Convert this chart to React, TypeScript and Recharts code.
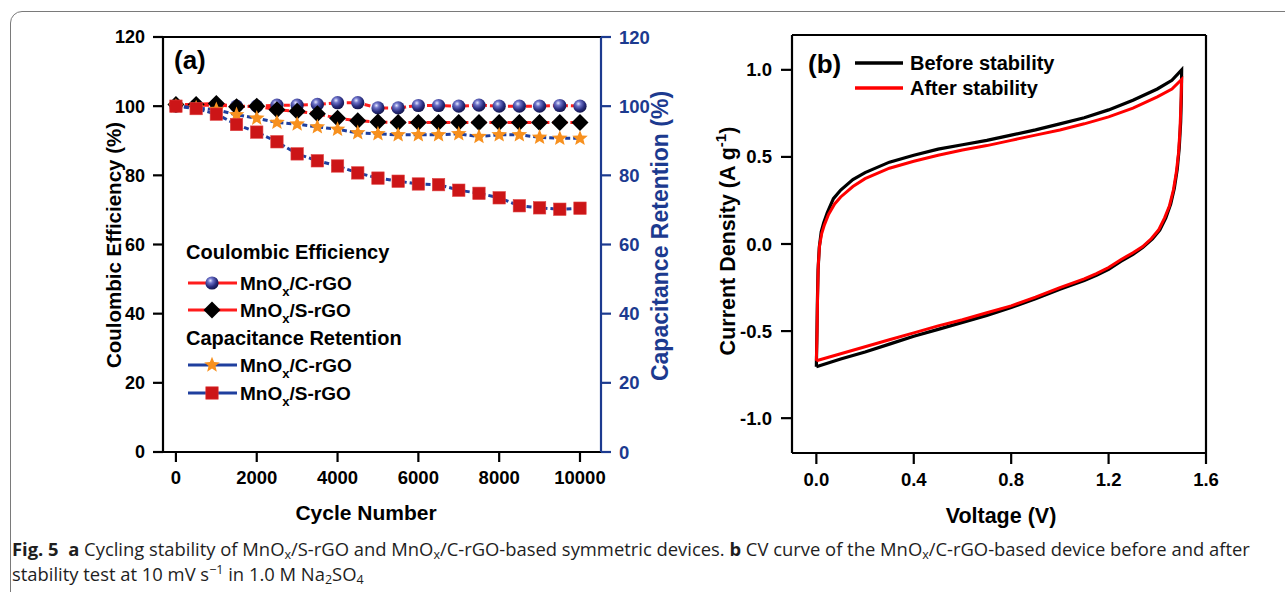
import React from 'react';
import {
  ComposedChart,
  Line,
  XAxis,
  YAxis,
  ReferenceLine,
  Legend,
} from 'recharts';

// (a) cycling stability, one reading every 500 cycles
const cycles = [
  0, 500, 1000, 1500, 2000, 2500, 3000, 3500, 4000, 4500, 5000, 5500, 6000,
  6500, 7000, 7500, 8000, 8500, 9000, 9500, 10000,
];
const ceCrgo = [
  100, 100.2, 100.3, 100, 100, 100.3, 100.3, 100.5, 101, 101, 99.5, 99.5,
  100.2, 100.2, 100, 100.3, 100, 100, 100, 100.2, 100,
];
const ceSrgo = [
  100.5, 100.5, 100.8, 99.8, 100, 99, 98.5, 97.8, 96.5, 95.8, 95.4, 95.3,
  95.3, 95.3, 95.3, 95.3, 95.3, 95.3, 95.3, 95.3, 95.3,
];
const crCrgo = [
  100, 99.5, 99, 97.5, 96.5, 95.3, 94.8, 94, 93.3, 92.3, 92, 91.7, 91.7, 91.7,
  92, 91.2, 91.7, 91.7, 91, 90.7, 90.7,
];
const crSrgo = [
  100, 99.3, 97.7, 94.7, 92.5, 89.7, 86.2, 84.2, 82.7, 80.7, 79.2, 78.3, 77.5,
  77.3, 75.7, 74.8, 73.5, 71.2, 70.6, 70.2, 70.5,
];
const cycleTicks = [0, 2000, 4000, 6000, 8000, 10000];
const percentTicks = [0, 20, 40, 60, 80, 100, 120];

// (b) CV loops, [voltage, current density]
const beforeCurve = [
  [0, -0.705], [0.002, -0.55], [0.004, -0.35], [0.007, -0.15], [0.012, -0.02],
  [0.02, 0.07], [0.03, 0.12], [0.045, 0.18], [0.07, 0.26], [0.1, 0.31],
  [0.15, 0.37], [0.2, 0.41], [0.3, 0.47], [0.4, 0.51], [0.5, 0.545],
  [0.6, 0.57], [0.7, 0.595], [0.8, 0.625], [0.9, 0.655], [1.0, 0.69],
  [1.1, 0.725], [1.2, 0.77], [1.3, 0.825], [1.4, 0.89], [1.46, 0.94],
  [1.5, 1.0], [1.499, 0.85], [1.496, 0.7], [1.49, 0.55], [1.482, 0.43],
  [1.47, 0.32], [1.455, 0.23], [1.435, 0.15], [1.41, 0.08], [1.38, 0.03],
  [1.34, -0.02], [1.3, -0.06], [1.25, -0.1], [1.2, -0.145], [1.15, -0.18],
  [1.1, -0.21], [1.0, -0.26], [0.9, -0.315], [0.8, -0.365], [0.7, -0.41],
  [0.6, -0.45], [0.5, -0.49], [0.4, -0.53], [0.3, -0.575], [0.2, -0.62],
  [0.1, -0.66], [0, -0.705],
];
const afterCurve = [
  [0, -0.67], [0.003, -0.5], [0.005, -0.3], [0.008, -0.12], [0.013, -0.01],
  [0.022, 0.06], [0.033, 0.11], [0.05, 0.17], [0.075, 0.23], [0.1, 0.27],
  [0.15, 0.33], [0.2, 0.375], [0.3, 0.435], [0.4, 0.475], [0.5, 0.51],
  [0.6, 0.54], [0.7, 0.565], [0.8, 0.595], [0.9, 0.625], [1.0, 0.655],
  [1.1, 0.69], [1.2, 0.73], [1.3, 0.78], [1.4, 0.845], [1.46, 0.89],
  [1.5, 0.945], [1.497, 0.8], [1.493, 0.65], [1.487, 0.52], [1.478, 0.41],
  [1.466, 0.31], [1.45, 0.22], [1.43, 0.15], [1.405, 0.08], [1.375, 0.03],
  [1.34, -0.015], [1.3, -0.05], [1.25, -0.09], [1.2, -0.135], [1.15, -0.17],
  [1.1, -0.2], [1.0, -0.25], [0.9, -0.305], [0.8, -0.355], [0.7, -0.395],
  [0.6, -0.435], [0.5, -0.47], [0.4, -0.51], [0.3, -0.55], [0.2, -0.59],
  [0.1, -0.63], [0, -0.67],
];
const voltageTicks = [0, 0.4, 0.8, 1.2, 1.6];
const currentTicks = [-1, -0.5, 0, 0.5, 1];

const FONT = '"Liberation Sans", Arial, Helvetica, sans-serif';
const BLUE = '#1c3a8f';
const RED_LINE = '#ff1c1c';
const DASH_BLUE = '#1f3f9e';

const cycleRows = cycles.map((c, i) => ({
  cycle: c,
  ceC: ceCrgo[i],
  ceS: ceSrgo[i],
  crC: crCrgo[i],
  crS: crSrgo[i],
}));
const beforeRows = beforeCurve.map(([v, i]) => ({ v, i }));
const afterRows = afterCurve.map(([v, i]) => ({ v, i }));

const tickFont = { fontFamily: FONT, fontSize: 18.5, fontWeight: 700 };

const starPoints = (cx: number, cy: number, R: number, r: number) => {
  const pts: string[] = [];
  for (let k = 0; k < 10; k++) {
    const a = -Math.PI / 2 + (k * Math.PI) / 5;
    const rad = k % 2 === 0 ? R : r;
    pts.push(`${cx + rad * Math.cos(a)},${cy + rad * Math.sin(a)}`);
  }
  return pts.join(' ');
};

const Ball = ({ cx, cy, grad }: any) => (
  <circle cx={cx} cy={cy} r={6.6} fill={`url(#${grad})`} />
);
const Diamond = ({ cx, cy }: any) => (
  <polygon
    points={`${cx},${cy - 8.5} ${cx + 8.5},${cy} ${cx},${cy + 8.5} ${cx - 8.5},${cy}`}
    fill="#000"
  />
);
const Star = ({ cx, cy }: any) => (
  <polygon points={starPoints(cx, cy, 8.2, 3.6)} fill="#f7901e" />
);
const Square = ({ cx, cy }: any) => (
  <rect x={cx - 6.2} y={cy - 6.2} width={12.4} height={12.4} fill="#cc1517" stroke="#e04040" strokeWidth={0.6} />
);

const ballDot = (p: any) =>
  p.cx == null ? <g key={`b${p.index}`} /> : <Ball key={`b${p.index}`} cx={p.cx} cy={p.cy} grad="ballGrad" />;
const diamondDot = (p: any) =>
  p.cx == null ? <g key={`d${p.index}`} /> : <Diamond key={`d${p.index}`} cx={p.cx} cy={p.cy} />;
const starDot = (p: any) =>
  p.cx == null ? <g key={`s${p.index}`} /> : <Star key={`s${p.index}`} cx={p.cx} cy={p.cy} />;
const squareDot = (p: any) =>
  p.cx == null ? <g key={`q${p.index}`} /> : <Square key={`q${p.index}`} cx={p.cx} cy={p.cy} />;

const BallGradient = ({ id }: { id: string }) => (
  <radialGradient id={id} cx="38%" cy="32%" r="68%">
    <stop offset="0%" stopColor="#e6e8ff" />
    <stop offset="28%" stopColor="#6d72c8" />
    <stop offset="70%" stopColor="#272b7c" />
    <stop offset="100%" stopColor="#15174d" />
  </radialGradient>
);

const MnOx = ({ rest }: { rest: string }) => (
  <>
    MnO<tspan dy={6} fontSize={13}>x</tspan>
    <tspan dy={-6}>{rest}</tspan>
  </>
);

// legend box sits at page (180, 230)
const LeftLegend = () => {
  const row = (y: number, color: string, marker: React.ReactNode, rest: string) => (
    <g>
      <line x1={8} x2={57} y1={y} y2={y} stroke={color} strokeWidth={3} />
      {marker}
      <text x={60} y={y + 7} fontFamily={FONT} fontSize={19} fontWeight={700}>
        <MnOx rest={rest} />
      </text>
    </g>
  );
  return (
    <svg width={250} height={180} style={{ display: 'block' }}>
      <defs>
        <BallGradient id="ballGradLegend" />
      </defs>
      <text x={6} y={29} fontFamily={FONT} fontSize={20} fontWeight={700}>
        Coulombic Efficiency
      </text>
      {row(53, RED_LINE, <Ball cx={32} cy={53} grad="ballGradLegend" />, '/C-rGO')}
      {row(80, RED_LINE, <Diamond cx={32} cy={80} />, '/S-rGO')}
      <text x={6} y={115} fontFamily={FONT} fontSize={20} fontWeight={700}>
        Capacitance Retention
      </text>
      {row(135, DASH_BLUE, <Star cx={32} cy={135} />, '/C-rGO')}
      {row(163, DASH_BLUE, <Square cx={32} cy={163} />, '/S-rGO')}
    </svg>
  );
};

const RightLegend = () => (
  <svg width={230} height={60} style={{ display: 'block' }}>
    <line x1={0} x2={48} y1={25} y2={25} stroke="#000" strokeWidth={3.5} />
    <text x={55} y={32} fontFamily={FONT} fontSize={20} fontWeight={700}>
      Before stability
    </text>
    <line x1={0} x2={48} y1={50} y2={50} stroke="#ff0000" strokeWidth={3.5} />
    <text x={55} y={57} fontFamily={FONT} fontSize={20} fontWeight={700}>
      After stability
    </text>
  </svg>
);

const CyclingChart = () => (
  <ComposedChart
    width={700}
    height={540}
    data={cycleRows}
    margin={{ top: 37, right: 0, bottom: 0, left: 0 }}
  >
    <defs>
      <BallGradient id="ballGrad" />
    </defs>
    <XAxis
      dataKey="cycle"
      type="number"
      domain={[-320, 10520]}
      ticks={cycleTicks}
      interval={0}
      height={88}
      tickSize={10}
      tickMargin={9}
      axisLine={{ stroke: '#000', strokeWidth: 2.2 }}
      tickLine={{ stroke: '#000', strokeWidth: 2.2 }}
      tick={{ ...tickFont, fill: '#000' }}
    />
    <YAxis
      yAxisId="left"
      domain={[0, 120]}
      ticks={percentTicks}
      interval={0}
      width={163}
      tickSize={10}
      tickMargin={8}
      axisLine={{ stroke: '#000', strokeWidth: 2.2 }}
      tickLine={{ stroke: '#000', strokeWidth: 2.2 }}
      tick={{ ...tickFont, fontSize: 18, fill: '#000' }}
    />
    <YAxis
      yAxisId="right"
      orientation="right"
      domain={[0, 120]}
      ticks={percentTicks}
      interval={0}
      width={99}
      tickSize={10}
      tickMargin={8}
      axisLine={{ stroke: BLUE, strokeWidth: 2.2 }}
      tickLine={{ stroke: BLUE, strokeWidth: 2.2 }}
      tick={{ ...tickFont, fill: BLUE }}
    />
    <ReferenceLine yAxisId="left" y={120} stroke="#000" strokeWidth={2.2} />
    <Legend
      layout="vertical"
      align="center"
      verticalAlign="middle"
      content={() => <LeftLegend />}
      wrapperStyle={{ position: 'absolute', left: 180, top: 230, width: 250, height: 180 }}
    />
    <Line
      yAxisId="left"
      dataKey="ceC"
      stroke={RED_LINE}
      strokeWidth={3}
      strokeDasharray="6 3"
      dot={ballDot}
      isAnimationActive={false}
    />
    <Line
      yAxisId="left"
      dataKey="ceS"
      stroke={RED_LINE}
      strokeWidth={3}
      strokeDasharray="6 3"
      dot={diamondDot}
      isAnimationActive={false}
    />
    <Line
      yAxisId="right"
      dataKey="crC"
      stroke={DASH_BLUE}
      strokeWidth={3}
      strokeDasharray="5 3"
      dot={starDot}
      isAnimationActive={false}
    />
    <Line
      yAxisId="right"
      dataKey="crS"
      stroke={DASH_BLUE}
      strokeWidth={3}
      strokeDasharray="5 3"
      dot={squareDot}
      isAnimationActive={false}
    />
  </ComposedChart>
);

const CvChart = () => (
  <ComposedChart
    width={560}
    height={540}
    margin={{ top: 35, right: 54, bottom: 0, left: 0 }}
  >
    <XAxis
      dataKey="v"
      type="number"
      domain={[-0.1, 1.6]}
      ticks={voltageTicks}
      interval={0}
      allowDataOverflow
      height={87}
      tickSize={11}
      tickMargin={9}
      tickFormatter={(v: number) => v.toFixed(1)}
      axisLine={{ stroke: '#000', strokeWidth: 2.2 }}
      tickLine={{ stroke: '#000', strokeWidth: 2.2 }}
      tick={{ ...tickFont, fill: '#000' }}
    />
    <YAxis
      dataKey="i"
      type="number"
      domain={[-1.2, 1.2]}
      ticks={currentTicks}
      interval={0}
      allowDataOverflow
      width={92}
      tickSize={11}
      tickMargin={9}
      tickFormatter={(v: number) => v.toFixed(1)}
      axisLine={{ stroke: '#000', strokeWidth: 2.2 }}
      tickLine={{ stroke: '#000', strokeWidth: 2.2 }}
      tick={{ ...tickFont, fill: '#000' }}
    />
    <ReferenceLine y={1.2} stroke="#000" strokeWidth={2.2} />
    <ReferenceLine x={1.6} stroke="#000" strokeWidth={2.2} />
    <Legend
      layout="vertical"
      align="center"
      verticalAlign="middle"
      content={() => <RightLegend />}
      wrapperStyle={{ position: 'absolute', left: 155, top: 38, width: 230, height: 60 }}
    />
    <Line
      data={beforeRows}
      dataKey="i"
      type="linear"
      stroke="#000"
      strokeWidth={3.2}
      dot={false}
      isAnimationActive={false}
    />
    <Line
      data={afterRows}
      dataKey="i"
      type="linear"
      stroke="#ff0000"
      strokeWidth={3}
      dot={false}
      isAnimationActive={false}
    />
  </ComposedChart>
);

const Titles = () => (
  <svg
    width={1285}
    height={592}
    style={{ position: 'absolute', left: 0, top: 0, pointerEvents: 'none' }}
    fontFamily={FONT}
    fontWeight={700}
  >
    <text x={174} y={69} fontSize={26}>(a)</text>
    <text x={808} y={73} fontSize={26}>(b)</text>
    <text x={366} y={520} fontSize={21} textAnchor="middle">Cycle Number</text>
    <text x={1001} y={523} fontSize={21.5} textAnchor="middle">Voltage (V)</text>
    <text
      x={121}
      y={245}
      fontSize={20.5}
      textAnchor="middle"
      transform="rotate(-90 121 245)"
    >
      Coulombic Efficiency (%)
    </text>
    <text
      x={668}
      y={236}
      fontSize={23}
      fill={BLUE}
      textAnchor="middle"
      transform="rotate(-90 668 236)"
    >
      Capacitance Retention (%)
    </text>
    <text
      x={735}
      y={241}
      fontSize={21.5}
      textAnchor="middle"
      transform="rotate(-90 735 241)"
    >
      Current Density (A g<tspan dy={-9} fontSize={15}>-1</tspan>
      <tspan dy={9}>)</tspan>
    </text>
  </svg>
);

const subStyle: React.CSSProperties = {
  fontSize: 12.5,
  lineHeight: 0,
  verticalAlign: 'baseline',
  position: 'relative',
  top: 3,
};
const supStyle: React.CSSProperties = {
  fontSize: 12.5,
  lineHeight: 0,
  verticalAlign: 'baseline',
  position: 'relative',
  top: -7,
};

const Caption = () => (
  <div
    style={{
      position: 'absolute',
      left: 12,
      top: 536,
      fontFamily: '"Open Sans", "Noto Sans", sans-serif',
      fontSize: 18.4,
      lineHeight: '25px',
      color: '#1e1e1e',
      whiteSpace: 'nowrap',
    }}
  >
    <b>Fig. 5</b>&nbsp; <b>a</b> Cycling stability of MnO<span style={subStyle}>x</span>/S-rGO
    and MnO<span style={subStyle}>x</span>/C-rGO-based symmetric devices. <b>b</b> CV curve of
    the MnO<span style={subStyle}>x</span>/C-rGO-based device before and after
    <br />
    stability test at 10 mV s<span style={supStyle}>−1</span> in 1.0 M Na
    <span style={subStyle}>2</span>SO<span style={subStyle}>4</span>
  </div>
);

export default function App() {
  return (
    <div
      style={{
        position: 'absolute',
        left: 0,
        top: 0,
        width: 1285,
        height: 592,
        overflow: 'hidden',
        background: '#fff',
      }}
    >
      <div
        style={{
          position: 'absolute',
          left: 10,
          top: 11,
          width: 1320,
          height: 640,
          border: '1px solid #7a7a7a',
          borderRadius: 12,
        }}
      />
      <div style={{ position: 'absolute', left: 0, top: 0 }}>
        <CyclingChart />
      </div>
      <div style={{ position: 'absolute', left: 700, top: 0 }}>
        <CvChart />
      </div>
      <Titles />
      <Caption />
    </div>
  );
}
